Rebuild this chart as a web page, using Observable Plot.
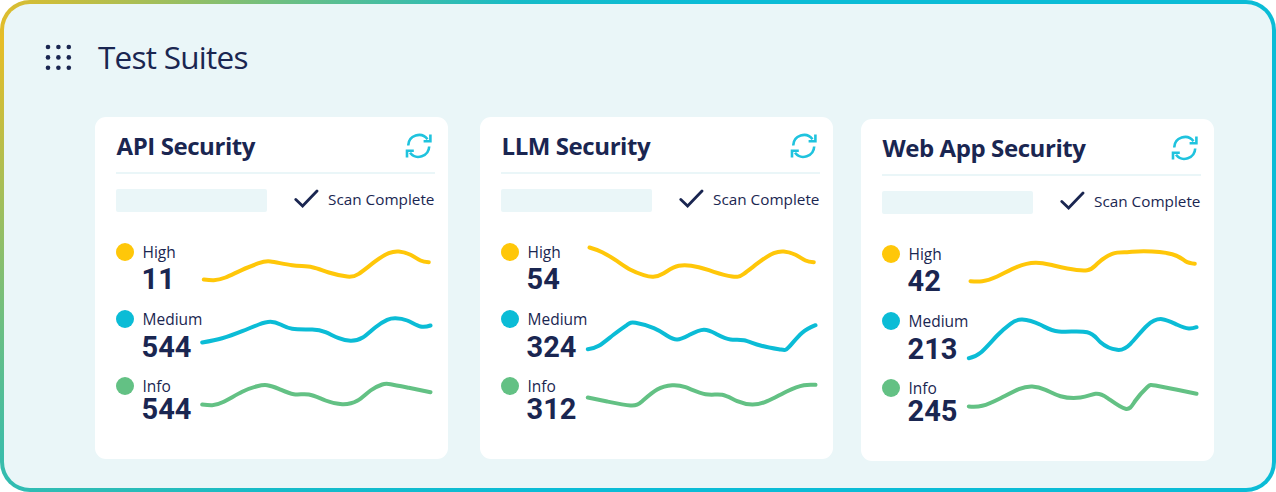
<!DOCTYPE html>
<html><head><meta charset="utf-8">
<script src="https://cdn.jsdelivr.net/npm/d3@7"></script>
<script src="https://cdn.jsdelivr.net/npm/@observablehq/plot@0.6"></script>
<style>
html,body{margin:0;padding:0;background:#fff;}
#frame{position:relative;width:1276px;height:492px;box-sizing:border-box;overflow:hidden;border:4.5px solid transparent;border-radius:30px;
 background:linear-gradient(#EAF6F8,#EAF6F8) padding-box,radial-gradient(circle at 0 40px,#e7bd27 0,#6abf84 290px,#16bbc8 520px,#0bbcd6 700px) border-box;
 font-family:"Open Sans",sans-serif;color:#1A2651;}
.abs{position:absolute;white-space:nowrap;}
#title{left:94px;top:32px;font-size:31.5px;line-height:42px;font-weight:400;letter-spacing:-.75px;}
#grid{left:40.5px;top:40px;}
.card{position:absolute;width:353px;height:342px;background:#fff;border-radius:11px;}
.ctitle{left:22px;top:12px;font-size:24px;line-height:34px;font-weight:700;letter-spacing:-.42px;}
.rule{left:21px;top:55px;width:319px;height:2px;background:#EAF6F8;}
.stub{left:21px;top:72px;width:151px;height:23px;background:#EAF6F8;border-radius:2px;}
.scan{left:233.5px;top:70px;font-size:15.3px;line-height:24px;}
.dot{width:18px;height:18px;border-radius:50%;left:21px;}
.lab{left:48px;font-size:15.5px;line-height:18px;}
.num{left:47px;font-family:Roboto,sans-serif;font-weight:700;font-size:29px;line-height:26px;}
.spark{position:absolute;left:106px;}
.spark svg{display:block;overflow:visible;background:transparent;}
</style></head><body>
<div id="frame"></div>
<script>
const severities = ["High","Medium","Info"];
const severityColors = ["#FFC709","#0BBCD6","#63C184"];
const suiteNames = ["API Security","LLM Security","Web App Security"];
const pageTitle = "Test Suites";
const statusText = "Scan Complete";

const apiCounts = [11,544,544];
const llmCounts = [54,324,312];
const webCounts = [42,213,245];

const apiHighT = [2.3,12.3,24,40.7,57.3,69,90.7,110.7,127.3,145.7,157.3,174,187.3,197.3,209,219,227.3];
const apiHighV = [16,15.3,18,25.7,32.3,34,30.3,28.3,23,19,21.7,34.3,42.3,44,40.7,35,33.3];
const apiMedT = [0.7,20.7,40.7,57.3,69,79,90.7,110.7,124,137.3,149,160.7,174,185.7,194,205.7,219,229];
const apiMedV = [23,27.3,34.3,41,43.7,41,36.7,36,33.3,27.3,24.7,27.7,38.3,45.7,47.3,45,39,40];
const apiInfoT = [0.7,10.7,22.3,40.7,55.7,65.7,77.3,92.3,107.3,124,140.7,155.7,169,180.7,189,207.3,229];
const apiInfoV = [26,25.3,28.7,38.7,44.3,45.3,41.7,36.3,36,30,26.3,29.7,40,46,46.3,42.7,38.3];

const llmHighT = [3,15.7,30.7,44,57.3,66.7,77.3,92.3,112.3,127.3,145.7,157.3,174,187.3,197.3,209,219,227.3];
const llmHighV = [48,43.3,34.3,25.7,20.3,18.7,22.3,29.7,28.3,23.7,19,21.7,34.3,42.3,44,40.7,35,33.3];
const llmMedT = [1.3,12.3,27.3,40.7,49,67.3,80.7,90.7,102.3,117.3,130.7,144,157.3,174,194,202.3,215.7,229];
const llmMedV = [16.3,19.7,31,40.7,42.7,37.3,29.7,26,30.3,35.7,31,26,25.3,20,16,18.3,32.7,40.3];
const llmInfoT = [1.3,20.7,44,55.7,70.7,85.7,99,119,135.7,150.7,165.7,180.7,200.7,217.3,229];
const llmInfoV = [33,29,25,29.3,41,45.3,43.3,36.3,35.7,29.3,26,29.3,39.3,45.3,45.7];

const webHighT = [3,14.7,29.7,49.7,68,83,99.7,119.7,129.7,144.7,159.7,176.3,204.7,218,227.3];
const webHighV = [16.3,16.3,21,30.7,34.7,32.7,29,27.3,33.7,43.7,45.3,46.3,43.3,36.3,33.7];
const webMedT = [1.3,13,29.7,43,54.7,73,91.3,119.7,133,149.7,163,179.7,194.7,209.7,221.3,229];
const webMedV = [9.3,14.7,32,43.7,48,42.7,36,35.3,25.3,17.7,23.7,42,48.3,42.7,39,40.3];
const webInfoT = [1.3,14.7,33,51.3,64.7,78,93,113,128,139.7,158,168,179.7,188,209.7,229];
const webInfoV = [26,26.7,34.3,43.3,46,42.7,36.3,35,38.7,34.7,23.7,32,45.3,47,42.7,38.7];

const suites = [
 {left:90.5, top:112.5, counts:apiCounts, t:[apiHighT,apiMedT,apiInfoT], v:[apiHighV,apiMedV,apiInfoV]},
 {left:475.5,top:112.5, counts:llmCounts, t:[llmHighT,llmMedT,llmInfoT], v:[llmHighV,llmMedV,llmInfoV]},
 {left:856.5,top:114.5, counts:webCounts, t:[webHighT,webMedT,webInfoT], v:[webHighV,webMedV,webInfoV]}
];
const rowLayout = [
 {dot:135,lab:135,num:162,spark:118},
 {dot:202,lab:202,num:230,spark:188},
 {dot:269,lab:269,num:292,spark:253}
];

const frame = document.getElementById("frame");
function el(parent,cls,text,style){
  const e=document.createElement("div");e.className=cls;
  if(text!=null)e.textContent=text;
  if(style)Object.assign(e.style,style);
  parent.appendChild(e);return e;
}
el(frame,"abs","",{}).id="grid";
document.getElementById("grid").innerHTML='<svg width="30" height="28" fill="#1A2651">'+
 [3,13.4,23.8].flatMap(y=>[3,13.4,23.8].map(x=>`<circle cx="${x}" cy="${y}" r="2.3"/>`)).join("")+'</svg>';
el(frame,"abs",pageTitle).id="title";

const refreshSvg='<svg width="28" height="28" viewBox="0 0 28 28" fill="none" stroke="#1FC3DE" stroke-width="2.6" stroke-linejoin="miter">'+
 '<path d="M3.2 13.5 A10.8 10.8 0 0 1 22.5 7.2"/><path d="M24.2 14.5 A10.8 10.8 0 0 1 5 20.8"/>'+
 '<path d="M25.4 2.6 V9.2 H18.6"/><path d="M2 25.4 V18.8 H8.8"/></svg>';
const checkSvg='<svg width="25" height="19" viewBox="0 0 25 19" fill="none" stroke="#1A2651" stroke-width="2.8" stroke-linecap="round"><path d="M1.8 10.5 L8.6 17 L23 2"/></svg>';

suites.forEach((s,i)=>{
  const card=el(frame,"card",null,{left:s.left+"px",top:s.top+"px"});
  el(card,"abs ctitle",suiteNames[i]);
  el(card,"abs","",{left:"310px",top:"15px"}).innerHTML=refreshSvg;
  el(card,"abs rule");
  el(card,"abs stub");
  el(card,"abs","",{left:"199px",top:"72px"}).innerHTML=checkSvg;
  el(card,"abs scan",statusText);
  severities.forEach((name,r)=>{
    const L=rowLayout[r];
    el(card,"abs dot",null,{background:severityColors[r],top:(L.dot-9)+"px"});
    el(card,"abs lab",name,{top:(L.lab-9)+"px"});
    el(card,"abs num",String(s.counts[r]),{top:(L.num-13)+"px"});
    const rows=s.t[r].map((t,k)=>({t,v:s.v[r][k]}));
    const chart=Plot.plot({
      width:240,height:60,margin:0,
      x:{domain:[0,240],axis:null},y:{domain:[0,60],axis:null},
      style:{background:"transparent"},
      marks:[Plot.line(rows,{x:"t",y:"v",stroke:severityColors[r],strokeWidth:4,curve:"natural"})]
    });
    const holder=el(card,"spark",null,{top:L.spark+"px"});
    holder.appendChild(chart);
  });
});
</script>
</body></html>
